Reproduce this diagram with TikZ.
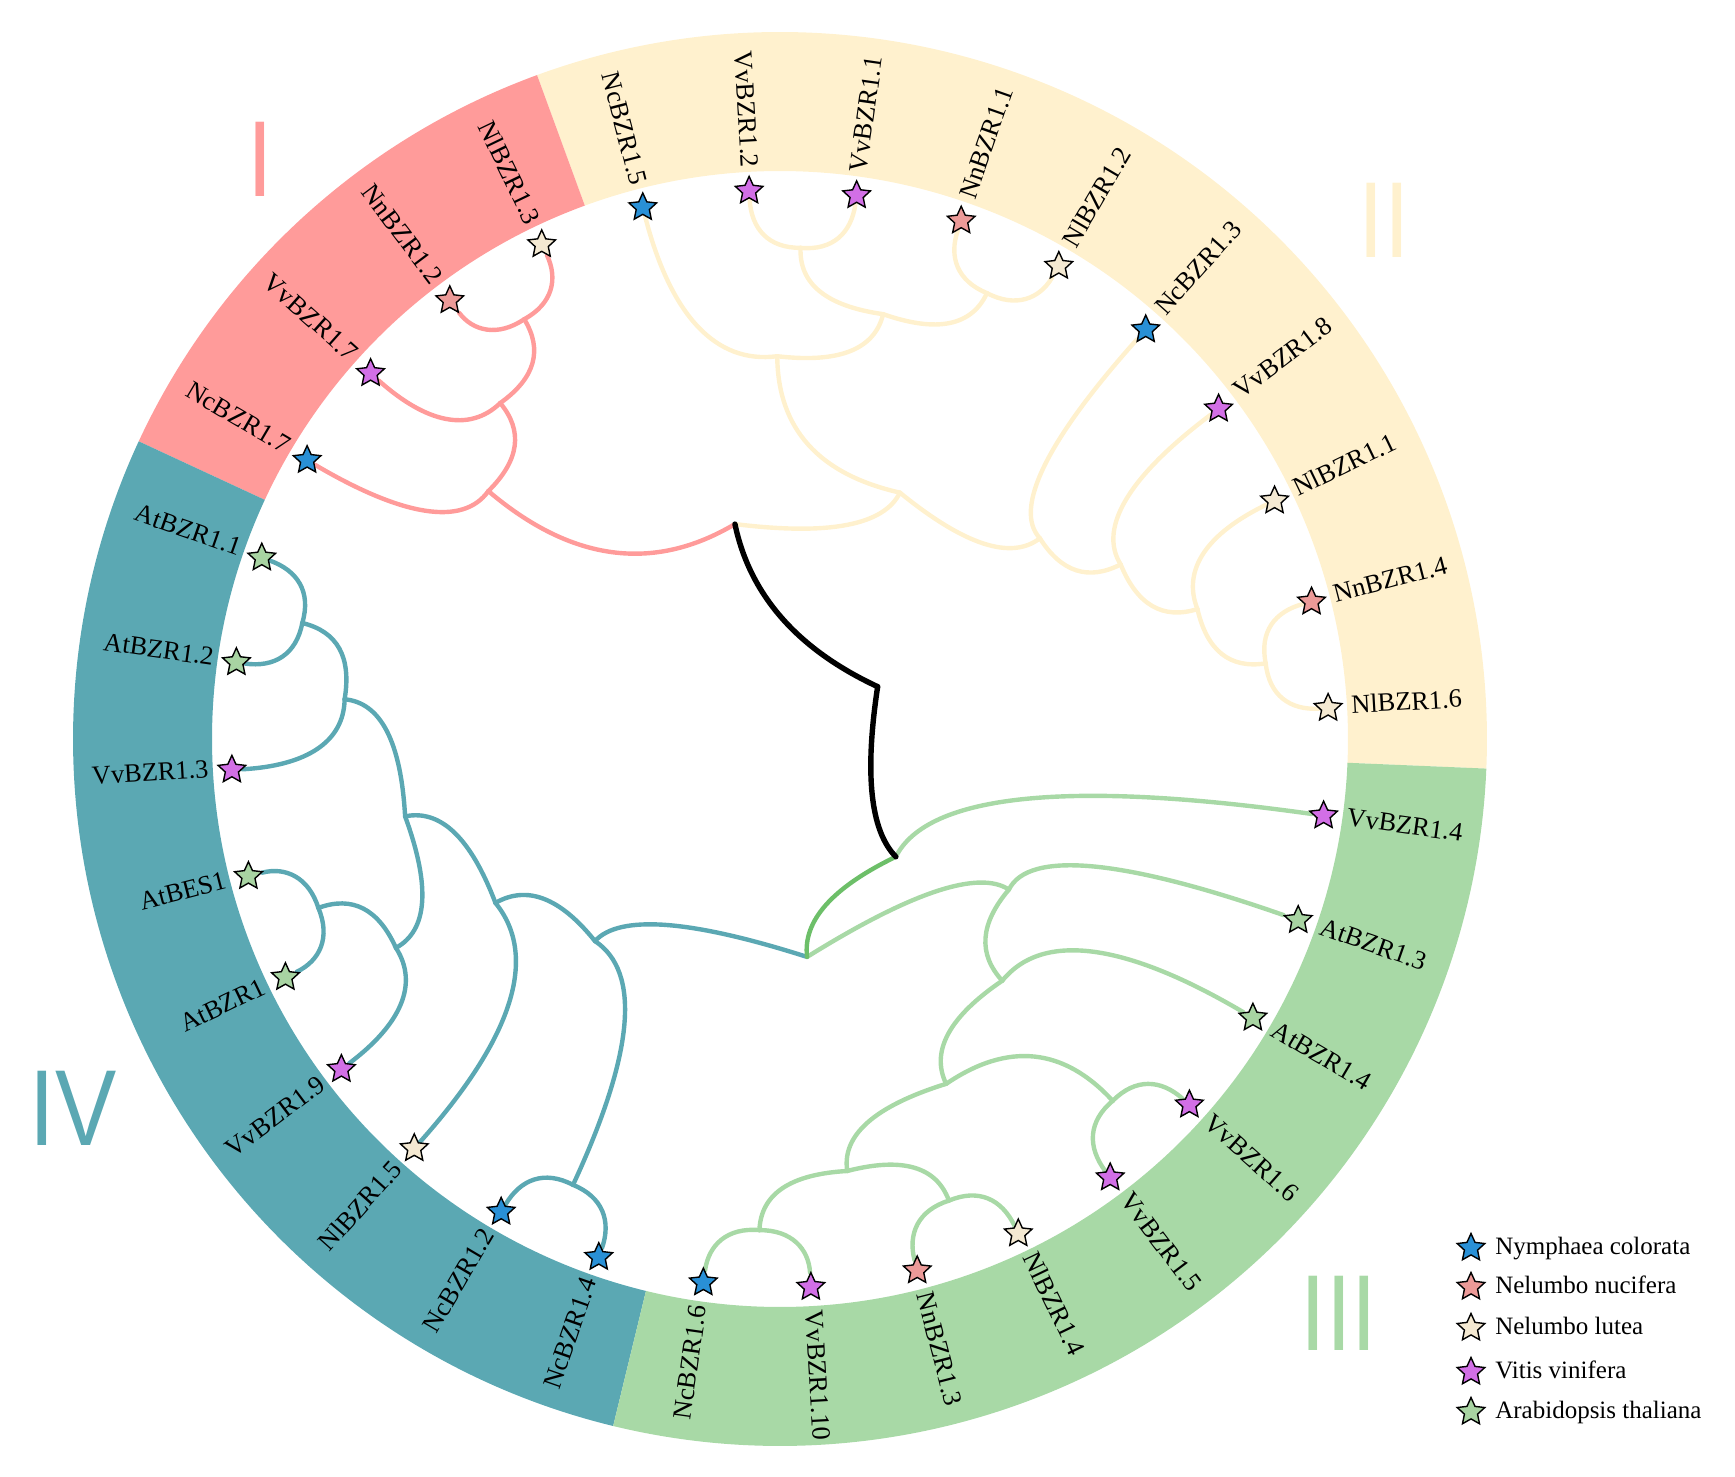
\documentclass[tikz,border=0pt]{standalone}
\usepackage{fontspec}
\setmainfont{Liberation Serif}
\newfontfamily\romanfont{Liberation Sans}
\usetikzlibrary{calc,positioning,shapes.geometric,backgrounds}

% ring and branch colours
\definecolor{secI}{HTML}{FF9B9A}
\definecolor{secII}{HTML}{FFF1CE}
\definecolor{secIII}{HTML}{A8D9A6}
\definecolor{secIV}{HTML}{5BA8B3}
\definecolor{rootgreen}{HTML}{6DBF69}
% species colours
\definecolor{ncol}{HTML}{2990D6}
\definecolor{nnuc}{HTML}{EC9A98}
\definecolor{nlut}{HTML}{F4E9D2}
\definecolor{vvin}{HTML}{D26FE6}
\definecolor{atha}{HTML}{A8D4A2}

\tikzset{
  branch/.style={line width=2.2pt, line cap=round, line join=round},
  taxon/.style={star, star points=5, star point ratio=2.1, minimum size=14.5pt,
    inner sep=0pt, draw=black, line width=0.7pt},
  tiplabel/.style={font=\fontsize{13.2}{15}\selectfont, inner sep=2pt,
    text height=0.66em, text depth=0pt},
  keylabel/.style={font=\fontsize{12.5}{15}\selectfont, inner sep=2pt,
    text height=0.66em, text depth=0pt},
  romannum/.style={font=\romanfont\fontsize{54}{60}\selectfont, inner sep=0pt, xscale=0.85}
}

% keep angle, radius and colour of the branch into a tree node
\newcommand{\keepnode}[4]{%
  \expandafter\xdef\csname ang#1\endcsname{#2}%
  \expandafter\xdef\csname rad#1\endcsname{#3}%
  \expandafter\xdef\csname col#1\endcsname{#4}}

% branch parent -> child, bent round (child angle, parent radius)
\def\rootcol{black}
\newcommand{\twig}[2]{%
  \edef\twigcol{\csname col#2\endcsname}%
  \edef\bendang{\csname ang#2\endcsname}%
  \edef\bendrad{\csname rad#1\endcsname}%
  \def\twigwd{2.2pt}\ifx\twigcol\rootcol\def\twigwd{2.7pt}\fi
  \coordinate (bend) at (\bendang:\bendrad);%
  \draw[branch,color=\twigcol,line width=\twigwd] (#1) .. controls ($(#1)!2/3!(bend)$) and ($(#2)!2/3!(bend)$) .. (#2);}

% inner node #1 joins #2 and #3, depth #4, incoming branch colour #5
\newcommand{\joinclade}[5]{%
  \pgfmathsetmacro{\cang}{(\csname ang#2\endcsname+\csname ang#3\endcsname)/2}%
  \pgfmathsetmacro{\crad}{546-54.4*#4}%
  \keepnode{#1}{\cang}{\crad}{#5}%
  \coordinate (#1) at (\cang:\crad);%
  \twig{#1}{#2}\twig{#1}{#3}}

\begin{document}
\begin{tikzpicture}[x=0.5pt,y=0.5pt]
  \useasboundingbox (-780,-738) rectangle (955,739);

  % tips: star and name, counter-clockwise from the right
  \foreach \nm/\fillc/\secc [count=\k from 0] in {
      NlBZR1.6/nlut/secII, NnBZR1.4/nnuc/secII, NlBZR1.1/nlut/secII, VvBZR1.8/vvin/secII,
      NcBZR1.3/ncol/secII, NlBZR1.2/nlut/secII, NnBZR1.1/nnuc/secII, VvBZR1.1/vvin/secII,
      VvBZR1.2/vvin/secII, NcBZR1.5/ncol/secII,
      NlBZR1.3/nlut/secI, NnBZR1.2/nnuc/secI, VvBZR1.7/vvin/secI, NcBZR1.7/ncol/secI,
      AtBZR1.1/atha/secIV, AtBZR1.2/atha/secIV, VvBZR1.3/vvin/secIV, AtBES1/atha/secIV,
      AtBZR1/atha/secIV, VvBZR1.9/vvin/secIV, NlBZR1.5/nlut/secIV, NcBZR1.2/ncol/secIV,
      NcBZR1.4/ncol/secIV,
      NcBZR1.6/ncol/secIII, VvBZR1.10/vvin/secIII, NnBZR1.3/nnuc/secIII, NlBZR1.4/nlut/secIII,
      VvBZR1.5/vvin/secIII, VvBZR1.6/vvin/secIII, AtBZR1.4/atha/secIII, AtBZR1.3/atha/secIII,
      VvBZR1.4/vvin/secIII}{
    \pgfmathsetmacro{\tang}{(\k+0.5)*11.25-2.4-360*(\k>13)}
    \keepnode{t\k}{\tang}{549}{\secc}
    \node[taxon,fill=\fillc] (t\k) at (\tang:549) {};
    \pgfmathtruncatemacro{\lft}{cos(\tang)<0}
    \ifnum\lft=1
      \node[tiplabel,anchor=east,rotate=\tang+180] (n\k) at (\tang:568) {\nm};
    \else
      \node[tiplabel,anchor=west,rotate=\tang] (n\k) at (\tang:568) {\nm};
    \fi
  }

  \begin{pgfonlayer}{background}
    % coloured ring of the four groups
    \foreach \angfrom/\angto/\ringcol in {-2.4/110.1/secII, 110.1/155.1/secI,
        155.1/256.35/secIV, 256.35/357.6/secIII}
      \fill[\ringcol] (\angfrom:568) arc[start angle=\angfrom, end angle=\angto, radius=568]
        -- (\angto:707) arc[start angle=\angto, end angle=\angfrom, radius=707] -- cycle;

    % group I
    \joinclade{i1}{t10}{t11}{1}{secI}
    \joinclade{i2}{i1}{t12}{2}{secI}
    \joinclade{i3}{i2}{t13}{3}{secI}
    % group II
    \joinclade{ii1}{t7}{t8}{1}{secII}
    \joinclade{ii2}{t5}{t6}{1}{secII}
    \joinclade{ii3}{ii2}{ii1}{2}{secII}
    \joinclade{ii4}{ii3}{t9}{3}{secII}
    \joinclade{ii5}{t0}{t1}{1}{secII}
    \joinclade{ii6}{ii5}{t2}{2}{secII}
    \joinclade{ii7}{ii6}{t3}{3}{secII}
    \joinclade{ii8}{ii7}{t4}{4}{secII}
    \joinclade{ii9}{ii8}{ii4}{5}{secII}
    \joinclade{A}{ii9}{i3}{6}{black}
    % group IV
    \joinclade{iv1}{t14}{t15}{1}{secIV}
    \joinclade{iv2}{iv1}{t16}{2}{secIV}
    \joinclade{iv3}{t17}{t18}{1}{secIV}
    \joinclade{iv4}{iv3}{t19}{2}{secIV}
    \joinclade{iv5}{iv2}{iv4}{3}{secIV}
    \joinclade{iv6}{iv5}{t20}{4}{secIV}
    \joinclade{iv7}{t21}{t22}{1}{secIV}
    \joinclade{iv8}{iv6}{iv7}{5}{secIV}
    % group III
    \joinclade{iii1}{t23}{t24}{1}{secIII}
    \joinclade{iii2}{t25}{t26}{1}{secIII}
    \joinclade{iii3}{iii1}{iii2}{2}{secIII}
    \joinclade{iii4}{t27}{t28}{1}{secIII}
    \joinclade{iii5}{iii3}{iii4}{3}{secIII}
    \joinclade{iii6}{iii5}{t29}{4}{secIII}
    \joinclade{iii7}{iii6}{t30}{5}{secIII}
    \joinclade{C}{iv8}{iii7}{6}{rootgreen}
    \joinclade{B}{C}{t31}{7}{black}
    % root
    \joinclade{R}{A}{B}{8}{black}
  \end{pgfonlayer}

  % group numbers
  \node[romannum,text=secI] (numI) at (-520,580) {I};
  \node[romannum,text=secII] (numII) at (604,519) {II};
  \node[romannum,text=secIII] (numIII) at (559,-574) {III};
  \node[romannum,text=secIV] (numIV) at (-707,-369) {IV};

  % legend
  \foreach \fillc/\txt/\yy [count=\j] in {ncol/Nymphaea colorata/-509,
      nnuc/Nelumbo nucifera/-548, nlut/Nelumbo lutea/-589,
      vvin/Vitis vinifera/-633, atha/Arabidopsis thaliana/-673}{
    \node[taxon,fill=\fillc] (key\j) at (691,\yy) {};
    \node[keylabel,right=5pt of key\j] (keytxt\j) {\txt};
  }
\end{tikzpicture}
\end{document}
